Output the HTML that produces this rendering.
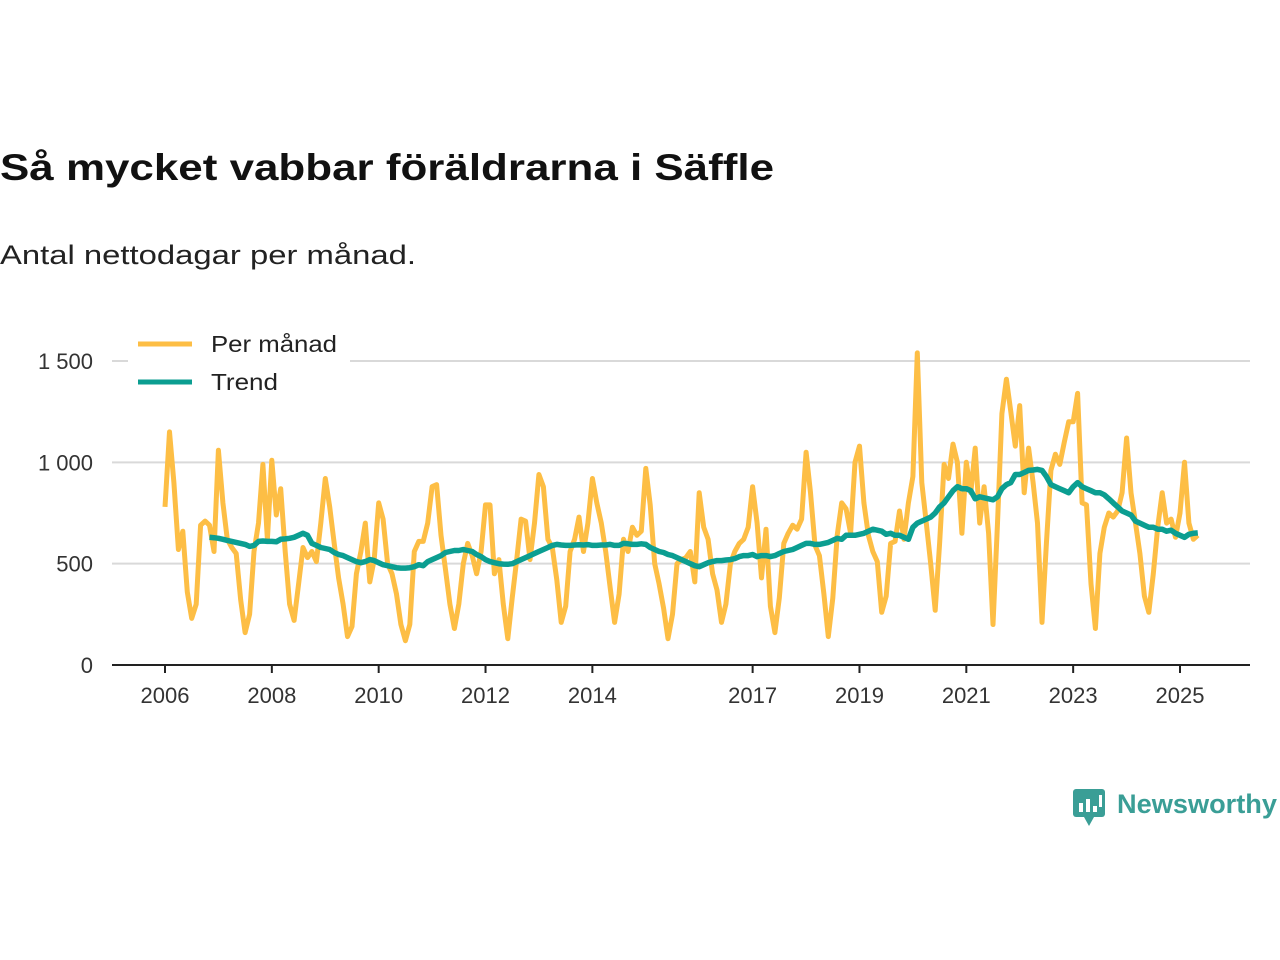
<!DOCTYPE html>
<html><head><meta charset="utf-8"><style>
html,body{margin:0;padding:0;background:#fff;width:1280px;height:960px;overflow:hidden}
svg text{font-family:"Liberation Sans","DejaVu Sans",sans-serif}
</style></head><body>
<svg id="chart" width="1280" height="960" viewBox="0 0 1280 960" xmlns="http://www.w3.org/2000/svg">
<text x="0" y="180" font-size="37" font-weight="bold" fill="#111" textLength="774" lengthAdjust="spacingAndGlyphs">Så mycket vabbar föräldrarna i Säffle</text>
<text x="0" y="264" font-size="27" fill="#222" textLength="416" lengthAdjust="spacingAndGlyphs">Antal nettodagar per månad.</text>
<g id="grid"></g>
<g id="yticks"></g>
<g id="xaxis"></g>
<g id="series"></g>
<g>
<rect x="128" y="326" width="222" height="76" fill="#fff"/>
<line x1="138" y1="344" x2="192" y2="344" stroke="#FDBE45" stroke-width="5"/>
<text x="211" y="352" font-size="23" fill="#222" textLength="126" lengthAdjust="spacingAndGlyphs">Per månad</text>
<line x1="138" y1="382" x2="192" y2="382" stroke="#0B9E91" stroke-width="5"/>
<text x="211" y="390" font-size="23" fill="#222" textLength="67" lengthAdjust="spacingAndGlyphs">Trend</text>
</g>
<g>
<rect x="1073" y="789" width="32" height="28" rx="3" fill="#3a9e96"/>
<polygon points="1084,817 1094,817 1089,826" fill="#3a9e96"/>
<rect x="1079" y="803" width="4" height="9" fill="#fff"/>
<rect x="1086" y="799" width="4" height="13" fill="#fff"/>
<rect x="1093" y="806" width="4" height="6" fill="#fff"/>
<rect x="1099" y="795" width="3" height="12" fill="#fff"/>
<text x="1117" y="813" font-size="27" font-weight="bold" fill="#3a9e96" textLength="160" lengthAdjust="spacingAndGlyphs">Newsworthy</text>
</g>
</svg>
<script>
const monthly = [
780,1150,900,570,660,360,230,300,690,710,690,560,
1060,800,620,580,550,320,160,250,560,700,990,620,
1010,740,870,560,300,220,400,580,530,560,510,700,
920,780,600,430,300,140,190,450,560,700,410,520,
800,720,500,450,350,200,120,200,560,610,610,700,
880,890,640,470,300,180,300,500,600,540,450,560,
790,790,450,520,300,130,330,520,720,710,520,700,
940,880,620,580,420,210,290,560,620,730,560,700,
920,800,700,560,380,210,350,620,560,680,640,660,
970,790,500,400,280,130,250,500,520,530,560,410,
850,680,620,450,370,210,300,500,560,600,620,680,
880,700,430,670,290,160,330,600,650,690,670,720,
1050,850,590,540,350,140,330,640,800,770,650,1000,
1080,800,640,560,510,260,340,600,610,760,620,800,
930,1540,900,700,500,270,600,990,920,1090,1000,650,
1000,850,1070,700,880,650,200,700,1240,1410,1250,1080,
1280,850,1070,900,700,210,600,960,1040,990,1100,1200,
1200,1340,800,790,400,180,550,680,750,730,760,850,
1120,850,700,550,340,260,450,680,850,700,720,630,
750,1000,700,620,640];
const trendStart = 10;
const trend = [630,628,
625,620,615,610,605,600,595,585,590,610,612,610,
610,608,620,622,625,630,640,650,640,600,590,580,
575,570,555,545,540,530,520,510,505,510,520,515,
505,495,490,485,480,478,478,480,485,495,490,510,
520,530,540,555,560,565,565,570,565,560,545,535,
520,510,505,500,498,497,500,510,520,530,540,550,
560,570,580,590,595,592,590,590,592,593,592,594,
590,590,592,592,595,590,590,600,598,595,595,598,
595,580,570,560,555,545,540,530,520,510,500,490,
485,495,505,510,515,515,518,520,525,535,540,540,
545,535,540,540,535,540,550,560,565,570,580,590,
600,600,595,595,600,605,615,625,620,640,640,640,
645,650,660,670,665,660,645,650,640,640,630,620,
680,700,710,720,730,750,780,800,830,860,880,870,
870,860,820,830,825,820,815,830,870,890,900,940,
940,950,960,962,965,960,930,890,880,870,860,850,
880,900,880,870,860,850,850,840,820,800,780,760,
750,740,710,700,690,680,680,670,670,660,665,650,
640,630,645,650,652];
const yTicks = [0,500,1000,1500];
const yTickLabels = ["0","500","1 000","1 500"];
const xTickYears = [2006,2008,2010,2012,2014,2017,2019,2021,2023,2025];

const NS="http://www.w3.org/2000/svg";
const x = i => 165 + i*(1180-165)/228;
const y = v => 665 - v*(665-361)/1500;
function mk(tag,attrs,parent,txt){const e=document.createElementNS(NS,tag);for(const k in attrs)e.setAttribute(k,attrs[k]);if(txt!==undefined)e.textContent=txt;parent.appendChild(e);return e;}
const grid=document.getElementById('grid'),yt=document.getElementById('yticks'),xa=document.getElementById('xaxis'),se=document.getElementById('series');
yTicks.forEach((t,k)=>{
  if(t>0){const g=mk('line',{x1:112,x2:1250,y1:y(t),y2:y(t),stroke:'#d9d9d9','stroke-width':2},grid);
  
  }
  const l=mk('text',{x:93,y:y(t)+8,'text-anchor':'end','font-size':22,fill:'#333'},yt,yTickLabels[k]);
  
  
});
const ax=mk('line',{x1:112,x2:1250,y1:665,y2:665,stroke:'#222','stroke-width':2},xa);


xTickYears.forEach(yr=>{
  const px=x((yr-2006)*12);
  const tk=mk('line',{x1:px,x2:px,y1:665,y2:673,stroke:'#222','stroke-width':2},xa);
  
  
  const l=mk('text',{x:px,y:703,'text-anchor':'middle','font-size':22,fill:'#333'},xa,String(yr));
  
  
});
const p1=mk('polyline',{points:monthly.map((v,i)=>x(i).toFixed(1)+','+y(v).toFixed(1)).join(' '),fill:'none',stroke:'#FDBE45','stroke-width':5,'stroke-linejoin':'round'},se);


const p2=mk('polyline',{points:trend.map((v,i)=>x(i+trendStart).toFixed(1)+','+y(v).toFixed(1)).join(' '),fill:'none',stroke:'#0B9E91','stroke-width':5.5,'stroke-linejoin':'round'},se);


</script>
</body></html>
